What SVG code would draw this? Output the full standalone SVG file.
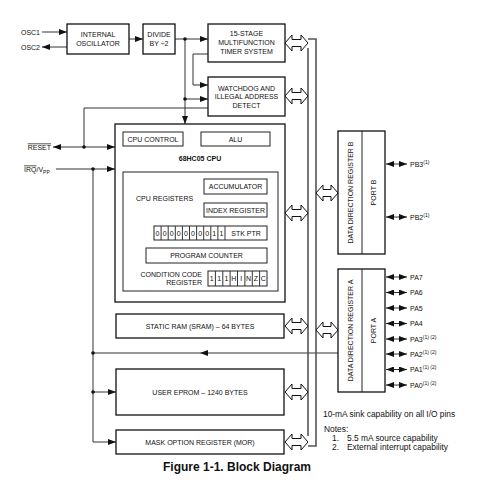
<svg xmlns="http://www.w3.org/2000/svg" width="481" height="500" viewBox="0 0 481 500">
<style>
  .box{fill:#fff;stroke:#111;stroke-width:1.3}
  .ibox{fill:#fff;stroke:#222;stroke-width:1}
  .t{font-family:"Liberation Sans",Arial,sans-serif;font-size:7px;fill:#111;text-anchor:middle}
  .ts{font-family:"Liberation Sans",Arial,sans-serif;font-size:7px;fill:#111}
  .n{font-family:"Liberation Sans",Arial,sans-serif;font-size:8.4px;fill:#111}
  .c{fill:none;stroke:#333;stroke-width:1}
  .bus{fill:none;stroke:#555;stroke-width:1.6}
  .dot{fill:#111}
  .ha{fill:#fff;stroke:#111;stroke-width:1}
  .sup{font-size:5px}
</style>
<defs>
  <marker id="ah" viewBox="0 0 8 6" refX="8" refY="3" markerWidth="8" markerHeight="6" markerUnits="userSpaceOnUse" orient="auto-start-reverse">
    <path d="M0,0 L8,3 L0,6 z" fill="#111"/>
  </marker>
  <path id="harrow" class="ha" d="M0,0 L7,-8 L7,-3.5 L16,-3.5 L16,-8 L23,0 L16,8 L16,3.5 L7,3.5 L7,8 Z"/>
  <path id="harrow2" class="ha" d="M0,0 L7,-8 L7,-3.5 L15,-3.5 L15,-8 L22,0 L15,8 L15,3.5 L7,3.5 L7,8 Z"/>
</defs>

<!-- connectors -->
<g id="connectors">
  <line class="c" x1="42" y1="32" x2="67" y2="32" marker-end="url(#ah)"/>
  <line class="c" x1="67" y1="47" x2="42" y2="47" marker-end="url(#ah)"/>
  <line class="c" x1="129" y1="39" x2="143" y2="39" marker-end="url(#ah)"/>
  <line class="c" x1="175" y1="39" x2="208" y2="39" marker-end="url(#ah)"/>
  <line class="c" x1="185" y1="39" x2="185" y2="124" marker-end="url(#ah)"/>
  <line class="c" x1="185" y1="99" x2="208" y2="99" marker-end="url(#ah)"/>
  <path class="c" d="M208,54 H193 V85 H208" marker-end="url(#ah)"/>
  <circle class="dot" cx="185" cy="39" r="1.8"/>
  <circle class="dot" cx="185" cy="99" r="1.8"/>

  <path class="c" d="M208,108 H84 V147"/>
  <line class="c" x1="84" y1="147" x2="53" y2="147" marker-end="url(#ah)"/>
  <line class="c" x1="84" y1="147" x2="115" y2="147" marker-end="url(#ah)"/>
  <circle class="dot" cx="84" cy="147" r="1.8"/>

  <line class="c" x1="56" y1="169" x2="115" y2="169" marker-end="url(#ah)"/>
  <line class="c" x1="93" y1="169" x2="93" y2="442"/>
  <circle class="dot" cx="93" cy="169" r="1.8"/>
  <line class="c" x1="93" y1="392" x2="116" y2="392" marker-end="url(#ah)"/>
  <line class="c" x1="93" y1="442" x2="116" y2="442" marker-end="url(#ah)"/>
  <circle class="dot" cx="93" cy="392" r="1.8"/>
  <line class="c" x1="338" y1="353" x2="200" y2="353" marker-end="url(#ah)"/>
  <line class="c" x1="200" y1="353" x2="93" y2="353"/>
  <circle class="dot" cx="93" cy="353" r="1.8"/>

  <!-- internal bus -->
  <path class="bus" d="M308,39 H316 V446 H308"/>
  <line class="bus" x1="308" y1="48" x2="308" y2="436"/>

  <use href="#harrow" x="285" y="43"/>
  <use href="#harrow" x="285" y="96"/>
  <use href="#harrow" x="285" y="213"/>
  <use href="#harrow" x="285" y="326"/>
  <use href="#harrow" x="285" y="392"/>
  <use href="#harrow" x="285" y="442"/>
  <use href="#harrow2" x="316" y="193"/>
  <use href="#harrow2" x="316" y="330"/>

  <!-- port pins -->
  <line class="c" x1="386" y1="164" x2="407" y2="164" marker-start="url(#ah)" marker-end="url(#ah)"/>
  <line class="c" x1="386" y1="217" x2="407" y2="217" marker-start="url(#ah)" marker-end="url(#ah)"/>
  <line class="c" x1="386" y1="277" x2="407" y2="277" marker-start="url(#ah)" marker-end="url(#ah)"/>
  <line class="c" x1="386" y1="292.5" x2="407" y2="292.5" marker-start="url(#ah)" marker-end="url(#ah)"/>
  <line class="c" x1="386" y1="308" x2="407" y2="308" marker-start="url(#ah)" marker-end="url(#ah)"/>
  <line class="c" x1="386" y1="323.5" x2="407" y2="323.5" marker-start="url(#ah)" marker-end="url(#ah)"/>
  <line class="c" x1="386" y1="339" x2="407" y2="339" marker-start="url(#ah)" marker-end="url(#ah)"/>
  <line class="c" x1="386" y1="354" x2="407" y2="354" marker-start="url(#ah)" marker-end="url(#ah)"/>
  <line class="c" x1="386" y1="369.5" x2="407" y2="369.5" marker-start="url(#ah)" marker-end="url(#ah)"/>
  <line class="c" x1="386" y1="385" x2="407" y2="385" marker-start="url(#ah)" marker-end="url(#ah)"/>
</g>

<!-- external signal labels -->
<g id="labels">
  <text class="ts" x="40" y="34.5" text-anchor="end">OSC1</text>
  <text class="ts" x="40" y="49.5" text-anchor="end">OSC2</text>
  <text class="ts" x="51" y="149.5" text-anchor="end" text-decoration="overline">RESET</text>
  <text class="ts" x="24" y="171.5"><tspan text-decoration="overline">IRQ</tspan>/V<tspan class="sup" dy="2">PP</tspan></text>
</g>

<g id="osc">
  <rect class="box" x="67" y="24" width="62" height="30"/>
  <text class="t" x="98" y="36.5">INTERNAL</text>
  <text class="t" x="98" y="45.5">OSCILLATOR</text>
</g>

<g id="divide">
  <rect class="box" x="143" y="24" width="32" height="30"/>
  <text class="t" x="159" y="36.5">DIVIDE</text>
  <text class="t" x="159" y="45.5">BY ÷2</text>
</g>

<g id="timer">
  <rect class="box" x="208" y="24" width="77" height="38"/>
  <text class="t" x="246.5" y="35.5">15-STAGE</text>
  <text class="t" x="246.5" y="44.5">MULTIFUNCTION</text>
  <text class="t" x="246.5" y="53.5">TIMER SYSTEM</text>
</g>

<g id="watchdog">
  <rect class="box" x="208" y="77" width="77" height="39"/>
  <text class="t" x="246.5" y="90.5">WATCHDOG AND</text>
  <text class="t" x="246.5" y="99">ILLEGAL ADDRESS</text>
  <text class="t" x="246.5" y="107.5">DETECT</text>
</g>

<g id="cpu">
  <rect class="box" x="115" y="124" width="170" height="178"/>
  <rect class="ibox" x="123" y="132" width="60" height="14"/>
  <text class="t" x="153" y="141.5">CPU CONTROL</text>
  <rect class="ibox" x="201" y="132" width="69" height="14"/>
  <text class="t" x="235.5" y="141.5">ALU</text>
  <text class="t" x="200" y="160.5" font-weight="bold">68HC05 CPU</text>

  <g id="cpu-registers">
    <rect class="ibox" x="123" y="172" width="155" height="119"/>
    <text class="ts" x="136" y="200.5">CPU REGISTERS</text>
    <rect class="ibox" x="204" y="179" width="63" height="15"/>
    <text class="t" x="235.5" y="189">ACCUMULATOR</text>
    <rect class="ibox" x="204" y="203" width="63" height="14"/>
    <text class="t" x="235.5" y="212.5">INDEX REGISTER</text>

    <g id="stkptr">
      <rect class="ibox" x="154" y="226" width="113" height="14"/>
      <path class="c" d="M161.1,226V240 M168.2,226V240 M175.3,226V240 M182.4,226V240 M189.5,226V240 M196.6,226V240 M203.7,226V240 M210.8,226V240 M217.9,226V240 M225,226V240"/>
      <text class="t" x="157.5" y="235.5">0</text>
      <text class="t" x="164.6" y="235.5">0</text>
      <text class="t" x="171.7" y="235.5">0</text>
      <text class="t" x="178.8" y="235.5">0</text>
      <text class="t" x="185.9" y="235.5">0</text>
      <text class="t" x="193" y="235.5">0</text>
      <text class="t" x="200.1" y="235.5">0</text>
      <text class="t" x="207.2" y="235.5">0</text>
      <text class="t" x="214.3" y="235.5">1</text>
      <text class="t" x="221.4" y="235.5">1</text>
      <text class="t" x="246" y="235.5">STK PTR</text>
    </g>

    <rect class="ibox" x="146" y="248" width="121" height="15"/>
    <text class="t" x="206.5" y="258">PROGRAM COUNTER</text>

    <g id="ccr">
      <text class="ts" x="202" y="276.5" text-anchor="end">CONDITION CODE</text>
      <text class="ts" x="202" y="285" text-anchor="end">REGISTER</text>
      <rect class="ibox" x="208" y="271" width="59" height="15"/>
      <path class="c" d="M215.4,271V286 M222.8,271V286 M230.1,271V286 M237.5,271V286 M244.9,271V286 M252.3,271V286 M259.6,271V286"/>
      <text class="t" x="211.7" y="281">1</text>
      <text class="t" x="219.1" y="281">1</text>
      <text class="t" x="226.5" y="281">1</text>
      <text class="t" x="233.8" y="281">H</text>
      <text class="t" x="241.2" y="281">I</text>
      <text class="t" x="248.6" y="281">N</text>
      <text class="t" x="256" y="281">Z</text>
      <text class="t" x="263.3" y="281">C</text>
    </g>
  </g>
</g>

<g id="sram">
  <rect class="box" x="116" y="314" width="168" height="24"/>
  <text class="t" x="200" y="328.5">STATIC RAM (SRAM) – 64 BYTES</text>
</g>

<g id="eprom">
  <rect class="box" x="116" y="369" width="168" height="46"/>
  <text class="t" x="200" y="394.5">USER EPROM – 1240 BYTES</text>
</g>

<g id="mor">
  <rect class="box" x="116" y="430" width="168" height="24"/>
  <text class="t" x="200" y="444.5">MASK OPTION REGISTER (MOR)</text>
</g>

<g id="portb">
  <rect class="box" x="338" y="131" width="47" height="123"/>
  <line class="ibox" x1="362" y1="131" x2="362" y2="254"/>
  <text class="t" transform="translate(352.5,192.5) rotate(-90)">DATA DIRECTION REGISTER B</text>
  <text class="t" transform="translate(376,192.5) rotate(-90)">PORT B</text>
  <text class="ts" x="410" y="166.5">PB3<tspan class="sup" dy="-3">(1)</tspan></text>
  <text class="ts" x="410" y="219.5">PB2<tspan class="sup" dy="-3">(1)</tspan></text>
</g>

<g id="porta">
  <rect class="box" x="338" y="269" width="47" height="123"/>
  <line class="ibox" x1="362" y1="269" x2="362" y2="392"/>
  <text class="t" transform="translate(352.5,330.5) rotate(-90)">DATA DIRECTION REGISTER A</text>
  <text class="t" transform="translate(376,330.5) rotate(-90)">PORT A</text>
  <text class="ts" x="410" y="279.5">PA7</text>
  <text class="ts" x="410" y="295">PA6</text>
  <text class="ts" x="410" y="310.5">PA5</text>
  <text class="ts" x="410" y="326">PA4</text>
  <text class="ts" x="410" y="341.5">PA3<tspan class="sup" dy="-3">(1) (2)</tspan></text>
  <text class="ts" x="410" y="356.5">PA2<tspan class="sup" dy="-3">(1) (2)</tspan></text>
  <text class="ts" x="410" y="372">PA1<tspan class="sup" dy="-3">(1) (2)</tspan></text>
  <text class="ts" x="410" y="387.5">PA0<tspan class="sup" dy="-3">(1) (2)</tspan></text>
</g>

<g id="notes">
  <text class="n" x="323" y="417">10-mA sink capability on all I/O pins</text>
  <text class="n" x="324" y="432">Notes:</text>
  <text class="n" x="332" y="441">1.</text>
  <text class="n" x="347" y="441">5.5 mA source capability</text>
  <text class="n" x="332" y="450">2.</text>
  <text class="n" x="347" y="450">External interrupt capability</text>
</g>

<text x="237" y="471" font-family="'Liberation Sans',Arial,sans-serif" font-size="12" font-weight="bold" text-anchor="middle" fill="#111">Figure 1-1. Block Diagram</text>
</svg>
